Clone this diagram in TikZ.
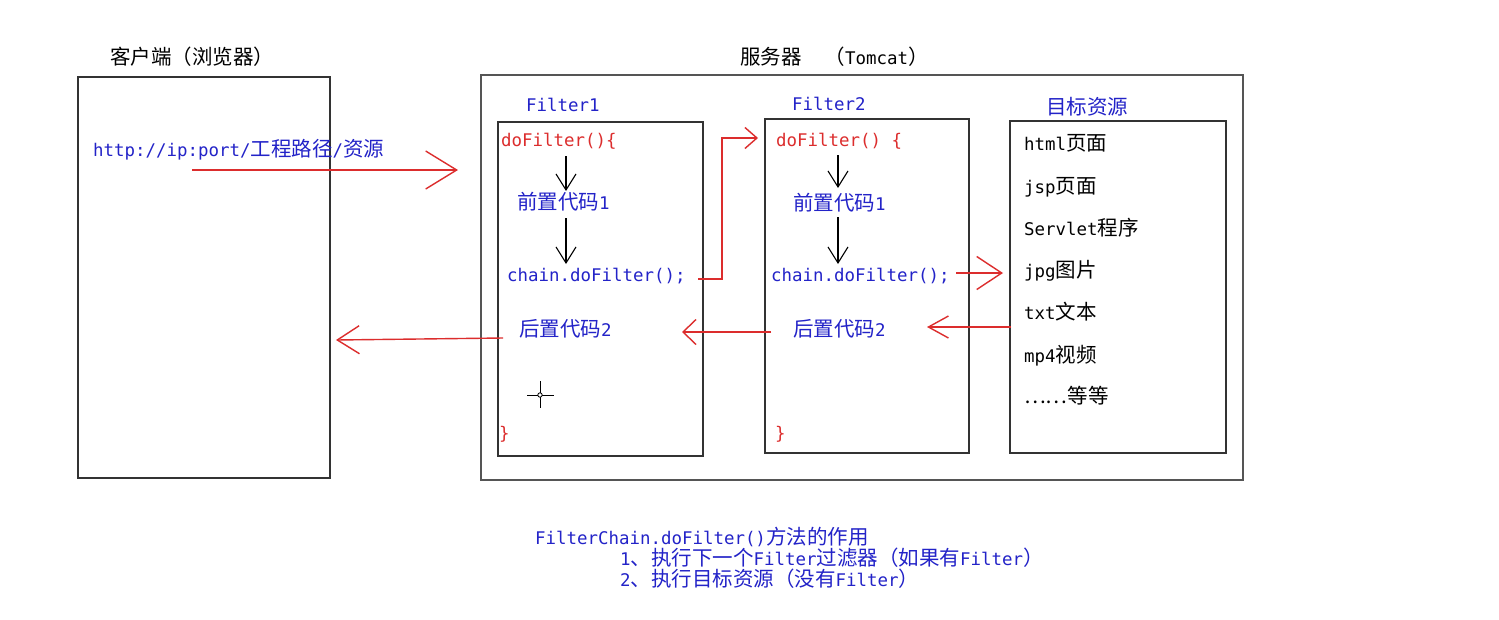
\documentclass[tikz,border=0pt]{standalone}
\usepackage{fontspec}
\setmainfont{Noto Sans CJK SC}
\newfontfamily\M{DejaVu Sans Mono}[Scale=0.85]
\usetikzlibrary{arrows.meta}
\definecolor{myred}{RGB}{220,45,45}
\definecolor{myblue}{RGB}{35,35,200}
\definecolor{mygray}{RGB}{85,85,85}
\begin{document}
\begin{tikzpicture}[x=1pt,y=-1pt,
  txt/.style={inner sep=0pt, anchor=base west, font=\fontsize{20.5}{20.5}\selectfont},
  bl/.style={txt, text=myblue},
  rd/.style={txt, text=myred},
  bk/.style={txt, text=black},
  box/.style={draw=black!80, line width=1.3pt, inner sep=0pt},
  redarr/.style={draw=myred, line width=1.4pt},
  blkarr/.style={draw=black, line width=1.1pt, -{Straight Barb[length=16pt,width=20pt]}}
]
\useasboundingbox (0,0) rectangle (1499,619);
\fill[white] (0,0) rectangle (1499,619);

% boxes
\node[box, minimum width=252pt, minimum height=401pt] (client) at (204,277.5) {};
\node[draw=mygray, line width=2.5pt, inner sep=0pt, minimum width=762pt, minimum height=405pt] (server) at (862,277.5) {};
\node[box, minimum width=205pt, minimum height=334pt] (f1) at (600.5,289) {};
\node[box, minimum width=204pt, minimum height=334pt] (f2) at (867,286) {};
\node[box, minimum width=216pt, minimum height=332pt] (target) at (1118,287) {};

% titles
\node[bk] (clientlbl) at (110,64) {客户端（浏览器）};
\node[bk] (serverlbl) at (740,64) {服务器\hspace{23pt}（{\M Tomcat}）};
\node[bl] (f1lbl) at (526,111) {\M Filter1};
\node[bl] (f2lbl) at (792,110) {\M Filter2};
\node[bl] (tlbl) at (1046,114) {目标资源};

% client
\node[bl] (url) at (93,156) {{\M http://ip:port/}工程路径{\M /}资源};

% filter1
\node[rd] (f1do) at (501,146) {\M doFilter()\{};
\node[bl] (f1pre) at (517,209) {前置代码{\M 1}};
\node[bl] (f1chain) at (507,281) {\M chain.doFilter();};
\node[bl] (f1post) at (519,336) {后置代码{\M 2}};
\node[rd] (f1end) at (499,439) {\M \}};

% filter2
\node[rd] (f2do) at (776,146) {\M doFilter() \{};
\node[bl] (f2pre) at (793,210) {前置代码{\M 1}};
\node[bl] (f2chain) at (771,281) {\M chain.doFilter();};
\node[bl] (f2post) at (793,336) {后置代码{\M 2}};
\node[rd] (f2end) at (775,439) {\M \}};

% target resources
\node[bk] (t1) at (1024,150) {{\M html}页面};
\node[bk] (t2) at (1024,193) {{\M jsp}页面};
\node[bk] (t3) at (1024,235) {{\M Servlet}程序};
\node[bk] (t4) at (1024,277) {{\M jpg}图片};
\node[bk] (t5) at (1024,319) {{\M txt}文本};
\node[bk] (t6) at (1024,362) {{\M mp4}视频};
\node[bk] (t7) at (1024,403) {……等等};

% bottom notes
\node[bl] (n0) at (535,544) {{\M FilterChain.doFilter()}方法的作用};
\node[bl] (n1) at (620,565) {{\M 1}、执行下一个{\M Filter}过滤器（如果有{\M Filter}）};
\node[bl] (n2) at (620,586) {{\M 2}、执行目标资源（没有{\M Filter}）};

% coordinates for connectors
\coordinate (ua) at (192,170);
\coordinate (ub) at (458,170);
\coordinate (a1) at (566,156);
\coordinate (a2) at (566,191);
\coordinate (a3) at (566,218);
\coordinate (a4) at (566,264);
\coordinate (b1) at (838,155);
\coordinate (b2) at (838,188);
\coordinate (b3) at (838,217);
\coordinate (b4) at (838,264);
\coordinate (c1) at (698,279);
\coordinate (c2) at (722,279);
\coordinate (c3) at (722,138);
\coordinate (c4) at (758,138);
\coordinate (d1) at (956,273);
\coordinate (d2) at (1003,273);
\coordinate (e1) at (1011,327);
\coordinate (e2) at (927,327);
\coordinate (g1) at (771,332);
\coordinate (g2) at (682,332);
\coordinate (h1) at (503,338);
\coordinate (h2) at (336,340);

% connectors
\draw[redarr, -{Straight Barb[length=31pt,width=38pt]}] (ua) -- (ub);
\draw[blkarr] (a1) -- (a2);
\draw[blkarr] (a3) -- (a4);
\draw[blkarr] (b1) -- (b2);
\draw[blkarr] (b3) -- (b4);
\draw[redarr, -{Straight Barb[length=12pt,width=21pt]}] (c1) -- (c2) -- (c3) -- (c4);
\draw[redarr, -{Straight Barb[length=25pt,width=33pt]}] (d1) -- (d2);
\draw[redarr, -{Straight Barb[length=20pt,width=22pt]}] (e1) -- (e2);
\draw[redarr, -{Straight Barb[length=13pt,width=25pt]}] (g1) -- (g2);
\draw[redarr, -{Straight Barb[length=22pt,width=28pt]}] (h1) -- (h2);

% cursor
\draw[black, line width=1pt] (527,395) -- (554,395) (540,381) -- (540,408);
\draw[black, line width=0.8pt, fill=white] (540,395) circle (2.2);
\end{tikzpicture}
\end{document}
